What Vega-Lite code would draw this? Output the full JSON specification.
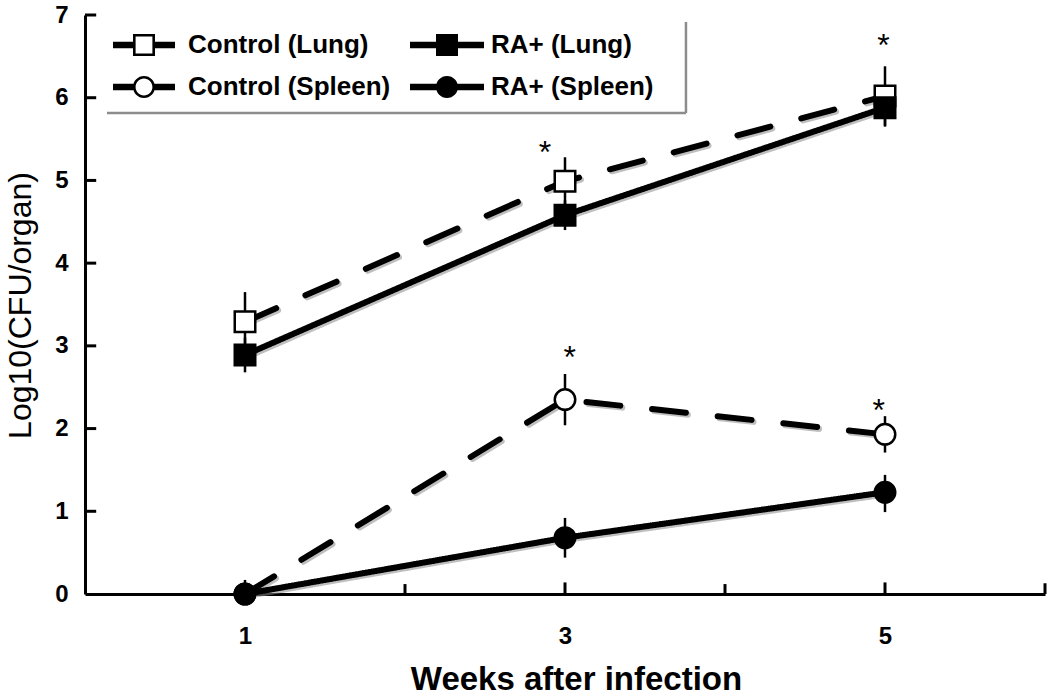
{
  "$schema": "https://vega.github.io/schema/vega-lite/v6.json",
  "autosize": {"type": "none"},
  "width": 960,
  "height": 579,
  "padding": {"left": 85, "top": 15, "right": 5, "bottom": 102},
  "background": "white",
  "config": {"view": {"stroke": null}, "font": "Liberation Sans"},
  "datasets": {
    "obs": [
      {"series": "Control (Lung)", "week": 1, "value": 3.29, "lo": 2.93, "hi": 3.65},
      {"series": "Control (Lung)", "week": 3, "value": 4.99, "lo": 4.70, "hi": 5.28},
      {"series": "Control (Lung)", "week": 5, "value": 6.02, "lo": 5.66, "hi": 6.38},
      {"series": "RA+ (Lung)", "week": 1, "value": 2.89, "lo": 2.68, "hi": 3.10},
      {"series": "RA+ (Lung)", "week": 3, "value": 4.58, "lo": 4.40, "hi": 4.76},
      {"series": "RA+ (Lung)", "week": 5, "value": 5.88, "lo": 5.65, "hi": 6.11},
      {"series": "Control (Spleen)", "week": 1, "value": 0, "lo": 0, "hi": 0.17},
      {"series": "Control (Spleen)", "week": 3, "value": 2.35, "lo": 2.04, "hi": 2.66},
      {"series": "Control (Spleen)", "week": 5, "value": 1.93, "lo": 1.71, "hi": 2.15},
      {"series": "RA+ (Spleen)", "week": 1, "value": 0, "lo": 0, "hi": 0.1},
      {"series": "RA+ (Spleen)", "week": 3, "value": 0.68, "lo": 0.44, "hi": 0.92},
      {"series": "RA+ (Spleen)", "week": 5, "value": 1.23, "lo": 0.99, "hi": 1.44}
    ],
    "stars": [
      {"week": 2.875, "value": 5.21, "label": "*"},
      {"week": 4.99, "value": 6.50, "label": "*"},
      {"week": 3.03, "value": 2.73, "label": "*"},
      {"week": 4.96, "value": 2.09, "label": "*"}
    ],
    "box": [
      {"week": 0.1375, "week2": 3.756, "value": 5.815, "value2": 5.815},
      {"week": 3.756, "week2": 3.756, "value": 5.815, "value2": 6.916}
    ],
    "ticks": [
      {"week": 1, "week2": 1, "value": 0, "value2": 0.13},
      {"week": 2, "week2": 2, "value": 0, "value2": 0.12},
      {"week": 3, "week2": 3, "value": 0, "value2": 0.14},
      {"week": 4, "week2": 4, "value": 0, "value2": 0.12},
      {"week": 5, "week2": 5, "value": 0, "value2": 0.14},
      {"week": 6, "week2": 6, "value": 0, "value2": 0.13},
      {"week": 0, "week2": 0.07, "value": 1, "value2": 1},
      {"week": 0, "week2": 0.07, "value": 2, "value2": 2},
      {"week": 0, "week2": 0.07, "value": 3, "value2": 3},
      {"week": 0, "week2": 0.07, "value": 4, "value2": 4},
      {"week": 0, "week2": 0.07, "value": 5, "value2": 5},
      {"week": 0, "week2": 0.07, "value": 6, "value2": 6},
      {"week": 0, "week2": 0.07, "value": 7, "value2": 7}
    ]
  },
  "layer": [
    {
      "data": {"name": "box"},
      "mark": {"type": "rule", "color": "#8c8c8c", "strokeWidth": 2.5},
      "encoding": {
        "x": {"field": "week", "type": "quantitative", "title": "Weeks after infection", "scale": {"domain": [0, 6], "nice": false}},
        "x2": {"field": "week2"},
        "y": {"field": "value", "type": "quantitative", "title": "Log10(CFU/organ)", "scale": {"domain": [0, 7], "nice": false}},
        "y2": {"field": "value2"}
      }
    },
    {
      "data": {"name": "ticks"},
      "mark": {"type": "rule", "color": "black", "strokeWidth": 3},
      "encoding": {
        "x": {"field": "week", "type": "quantitative", "title": "Weeks after infection", "scale": {"domain": [0, 6], "nice": false}},
        "x2": {"field": "week2"},
        "y": {"field": "value", "type": "quantitative", "title": "Log10(CFU/organ)", "scale": {"domain": [0, 7], "nice": false}},
        "y2": {"field": "value2"}
      }
    },
    {
      "data": {"name": "obs"},
      "mark": {"type": "line", "strokeWidth": 6, "strokeCap": "round", "color": "#8a8a8a", "opacity": 0.55, "xOffset": 2, "yOffset": 2},
      "encoding": {
        "x": {"field": "week", "type": "quantitative", "title": "Weeks after infection", "scale": {"domain": [0, 6], "nice": false}},
        "y": {"field": "value", "type": "quantitative", "title": "Log10(CFU/organ)", "scale": {"domain": [0, 7], "nice": false}},
        "detail": {"field": "series"},
        "strokeDash": {
          "condition": {"test": "indexof(datum.series, 'Control') === 0", "value": [34, 32]},
          "value": [1, 0]
        }
      }
    },
    {
      "data": {"name": "obs"},
      "mark": {"type": "line", "strokeWidth": 6, "strokeCap": "round", "color": "black"},
      "encoding": {
        "x": {
          "field": "week", "type": "quantitative", "title": "Weeks after infection",
          "scale": {"domain": [0, 6], "nice": false},
          "axis": {
            "values": [1, 2, 3, 4, 5, 6],
            "format": "d",
            "labelExpr": "datum.value % 2 == 1 ? datum.label : ''",
            "grid": false, "ticks": false,
            "domainColor": "black", "domainWidth": 3,
            "labelPadding": 30, "labelFontSize": 24, "labelFontWeight": "bold", "labelColor": "black",
            "labelFont": "Liberation Sans", "labelFlush": false, "labelOverlap": false,
            "titleFont": "Liberation Sans", "titleFontSize": 33, "titleFontWeight": "bold", "titleColor": "black",
            "titleX": 491, "titleY": 95, "titleBaseline": "alphabetic", "titleAlign": "center"
          }
        },
        "y": {
          "field": "value", "type": "quantitative", "title": "Log10(CFU/organ)",
          "scale": {"domain": [0, 7], "nice": false},
          "axis": {
            "values": [0, 1, 2, 3, 4, 5, 6, 7],
            "format": "d",
            "grid": false, "ticks": false,
            "domainColor": "black", "domainWidth": 3,
            "labelPadding": 17, "labelFontSize": 24, "labelFontWeight": "bold", "labelColor": "black",
            "labelFont": "Liberation Sans", "labelFlush": false, "labelOverlap": false,
            "titleFont": "Liberation Sans", "titleFontSize": 32, "titleFontWeight": "normal", "titleColor": "black",
            "titleX": -55, "titleY": 290, "titleBaseline": "alphabetic", "titleAlign": "center", "titleAngle": -90
          }
        },
        "detail": {"field": "series"},
        "strokeDash": {
          "condition": {"test": "indexof(datum.series, 'Control') === 0", "value": [34, 32]},
          "value": [1, 0]
        }
      }
    },
    {
      "data": {"name": "obs"},
      "mark": {"type": "rule", "strokeWidth": 2.5, "color": "black"},
      "encoding": {
        "x": {"field": "week", "type": "quantitative", "title": "Weeks after infection", "scale": {"domain": [0, 6], "nice": false}},
        "y": {"field": "lo", "type": "quantitative", "title": "Log10(CFU/organ)", "scale": {"domain": [0, 7], "nice": false}},
        "y2": {"field": "hi"}
      }
    },
    {
      "data": {"name": "obs"},
      "mark": {"type": "point", "filled": true, "stroke": "black", "strokeWidth": 2.5, "opacity": 1, "size": 420},
      "encoding": {
        "x": {"field": "week", "type": "quantitative", "title": "Weeks after infection", "scale": {"domain": [0, 6], "nice": false}},
        "y": {"field": "value", "type": "quantitative", "title": "Log10(CFU/organ)", "scale": {"domain": [0, 7], "nice": false}},
        "fill": {
          "condition": {"test": "indexof(datum.series, 'Control') === 0", "value": "white"},
          "value": "black"
        },
        "shape": {
          "condition": {"test": "indexof(datum.series, 'Lung') >= 0", "value": "square"},
          "value": "circle"
        }
      }
    },
    {
      "data": {"name": "obs"},
      "mark": {"type": "point", "filled": true, "color": "black", "opacity": 0},
      "encoding": {
        "x": {"field": "week", "type": "quantitative", "title": "Weeks after infection", "scale": {"domain": [0, 6], "nice": false}},
        "y": {"field": "value", "type": "quantitative", "title": "Log10(CFU/organ)", "scale": {"domain": [0, 7], "nice": false}},
        "shape": {
          "field": "series", "type": "nominal",
          "scale": {
            "domain": ["Control (Lung)", "Control (Spleen)", "RA+ (Lung)", "RA+ (Spleen)"],
            "range": [
              "M-1.55,-0.16H-0.55V0.16H-1.55Z M0.55,-0.16H1.55V0.16H0.55Z M-0.55,-0.55H0.55V0.55H-0.55Z M-0.42,-0.42V0.42H0.42V-0.42Z",
              "M-1.55,-0.16H-0.5V0.16H-1.55Z M0.5,-0.16H1.55V0.16H0.5Z M-0.55,0A0.55,0.55 0 1,1 0.55,0A0.55,0.55 0 1,1 -0.55,0Z M-0.42,0A0.42,0.42 0 1,0 0.42,0A0.42,0.42 0 1,0 -0.42,0Z",
              "M-1.85,-0.16H1.85V0.16H-1.85Z M-0.55,-0.55H0.55V0.55H-0.55Z",
              "M-1.85,-0.16H1.85V0.16H-1.85Z M-0.55,0A0.55,0.55 0 1,1 0.55,0A0.55,0.55 0 1,1 -0.55,0Z"
            ]
          },
          "legend": {
            "title": null,
            "values": ["Control (Lung)", "Control (Spleen)", "RA+ (Lung)", "RA+ (Spleen)"],
            "orient": "none", "legendX": 39, "legendY": 10,
            "columns": 2, "columnPadding": 19, "rowPadding": 9,
            "symbolSize": 1600, "labelOffset": 24, "padding": 0,
            "labelFontSize": 26, "labelFontWeight": "bold", "labelColor": "black",
            "labelFont": "Liberation Sans", "labelLimit": 400,
            "symbolStrokeWidth": 0, "symbolOpacity": 1, "symbolFillColor": "black"
          }
        }
      }
    },
    {
      "data": {"name": "stars"},
      "mark": {"type": "text", "fontSize": 32, "font": "Liberation Sans", "baseline": "alphabetic", "align": "center", "color": "black"},
      "encoding": {
        "x": {"field": "week", "type": "quantitative", "title": "Weeks after infection", "scale": {"domain": [0, 6], "nice": false}},
        "y": {"field": "value", "type": "quantitative", "title": "Log10(CFU/organ)", "scale": {"domain": [0, 7], "nice": false}},
        "text": {"field": "label"}
      }
    }
  ]
}
